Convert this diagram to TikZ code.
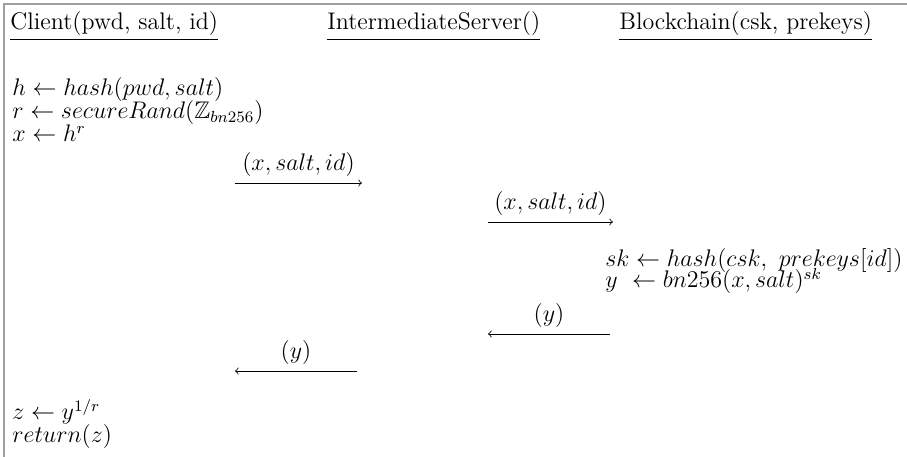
\documentclass[tikz,border=0pt,12pt]{standalone}
\usepackage{amsmath}
\usepackage{amssymb}
\usepackage{tikz}
\usetikzlibrary{calc}

\begin{document}
\begin{tikzpicture}[txt/.style={anchor=base west, inner sep=0pt},
        msg/.style={thin, ->},
        lbl/.style={above, inner sep=3pt}]
        \useasboundingbox (0,0) rectangle (15.94,-8.03);
        \draw[gray!75, line width=1pt] (15.94,-0.07) -- (0.07,-0.07) -- (0.07,-8.03);
        % parties
        \node[txt] (client) at (0.176,-0.527) {\underline{Client(pwd, salt, id)}};
        \node[txt] (server) at (5.746,-0.527) {\underline{IntermediateServer()}};
        \node[txt] (chain) at (10.878,-0.527) {\underline{Blockchain(csk, prekeys)}};
        % client side
        \node[txt] (c1) at (0.211,-1.687) {$h \leftarrow hash(pwd, salt)$};
        \node[txt] (c2) at (0.211,-2.091) {$r \leftarrow secureRand(\mathbb{Z}_{bn256})$};
        \node[txt] (c3) at (0.211,-2.495) {$x \leftarrow h^r$};
        \coordinate (m1s) at (4.130,-3.216);
        \coordinate (m1e) at (6.361,-3.216);
        \draw[msg] (m1s) -- node[lbl] (l1) {$(x, salt, id)$} (m1e);
        \coordinate (m2s) at (8.576,-3.901);
        \coordinate (m2e) at (10.772,-3.901);
        \draw[msg] (m2s) -- node[lbl] (l2) {$(x, salt, id)$} (m2e);
        % blockchain side
        \node[txt] (b1) at (10.632,-4.692) {$sk \leftarrow hash(csk,\ prekeys[id])$};
        \node[txt] (b2) at (10.632,-5.061) {$y\ \leftarrow bn256(x, salt)^{sk}$};
        \coordinate (m3s) at (10.720,-5.869);
        \coordinate (m3e) at (8.576,-5.869);
        \draw[msg] (m3s) -- node[lbl] (l3) {$(y)$} (m3e);
        \coordinate (m4s) at (6.274,-6.520);
        \coordinate (m4e) at (4.130,-6.520);
        \draw[msg] (m4s) -- node[lbl] (l4) {$(y)$} (m4e);
        \node[txt] (c4) at (0.211,-7.381) {$z \leftarrow y^{1/r}$};
        \node[txt] (c5) at (0.211,-7.785) {$return(z)$};
\end{tikzpicture}
\end{document}
